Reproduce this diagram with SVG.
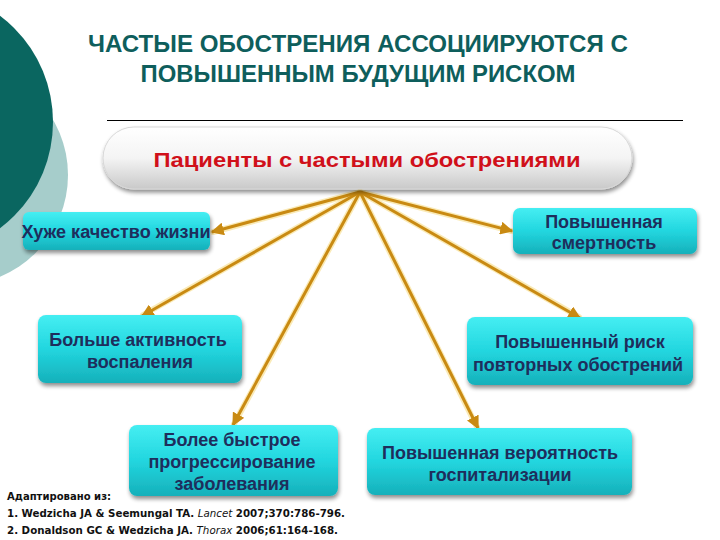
<svg xmlns="http://www.w3.org/2000/svg" width="720" height="540" viewBox="0 0 720 540">
<defs>
<linearGradient id="cyan" x1="0" y1="0" x2="0" y2="1">
<stop offset="0" stop-color="#45EEF2"/>
<stop offset="0.5" stop-color="#22D6DF"/>
<stop offset="1" stop-color="#16B0BA"/>
</linearGradient>
<linearGradient id="pill" x1="0" y1="0" x2="0" y2="1">
<stop offset="0" stop-color="#FFFFFF"/>
<stop offset="0.5" stop-color="#F4F4F4"/>
<stop offset="1" stop-color="#C9C9C9"/>
</linearGradient>
<filter id="sh" x="-10%" y="-20%" width="120%" height="150%">
<feGaussianBlur in="SourceAlpha" stdDeviation="2"/>
<feOffset dx="1" dy="3" result="b"/>
<feComponentTransfer><feFuncA type="linear" slope="0.45"/></feComponentTransfer>
<feMerge><feMergeNode/><feMergeNode in="SourceGraphic"/></feMerge>
</filter>
<marker id="ah" viewBox="0 0 10 10" refX="9" refY="5" markerWidth="13" markerHeight="13" markerUnits="userSpaceOnUse" orient="auto">
<path d="M0,0 L10,5 L0,10 z" fill="#C98A12"/>
</marker>
</defs>
<style>
.box{fill:url(#cyan);filter:url(#sh)}
.bt{font-family:"Liberation Sans",Arial,sans-serif;font-weight:bold;font-size:18px;fill:#1E2E5C;text-anchor:middle}
.halo{stroke:#F7DC86;stroke-width:6;stroke-linecap:round;opacity:0.6;fill:none}
.arr{stroke:#C98A12;stroke-width:3;fill:none;marker-end:url(#ah)}
.ref{font-family:"DejaVu Sans",Verdana,sans-serif;font-weight:bold;font-size:10px;fill:#111}
</style>
<rect width="720" height="540" fill="#FFFFFF"/>
<g id="background">
<circle cx="-42" cy="175" r="110" fill="#A6CDCB"/>
<circle cx="-80" cy="122" r="133" fill="#0A6660"/>
</g>
<g id="title" font-family="'Liberation Sans',Arial,sans-serif" font-weight="bold" font-size="24" fill="#0E5E5C" text-anchor="middle">
<text x="358" y="52" textLength="540" lengthAdjust="spacingAndGlyphs">ЧАСТЫЕ ОБОСТРЕНИЯ АССОЦИИРУЮТСЯ С</text>
<text x="358" y="82" textLength="435" lengthAdjust="spacingAndGlyphs">ПОВЫШЕННЫМ БУДУЩИМ РИСКОМ</text>
</g>
<line x1="107" y1="120.5" x2="683" y2="120.5" stroke="#000" stroke-width="1.2"/>
<g id="connectors">
<line class="halo" x1="360" y1="192" x2="213" y2="232"/>
<line class="halo" x1="360" y1="192" x2="143" y2="315"/>
<line class="halo" x1="360" y1="192" x2="234" y2="424"/>
<line class="halo" x1="360" y1="192" x2="511" y2="231"/>
<line class="halo" x1="360" y1="192" x2="579" y2="317"/>
<line class="halo" x1="360" y1="192" x2="477" y2="427"/>
<line class="arr" x1="360" y1="192" x2="212" y2="232"/>
<line class="arr" x1="360" y1="192" x2="142" y2="316"/>
<line class="arr" x1="360" y1="192" x2="233" y2="425"/>
<line class="arr" x1="360" y1="192" x2="512" y2="231"/>
<line class="arr" x1="360" y1="192" x2="580" y2="318"/>
<line class="arr" x1="360" y1="192" x2="478" y2="428"/>
</g>
<g id="patients">
<rect x="103" y="127" width="529" height="62" rx="31" fill="url(#pill)" filter="url(#sh)" stroke="#D8D8D8" stroke-width="1"/>
<text x="367" y="167" font-family="'Liberation Sans',Arial,sans-serif" font-weight="bold" font-size="20" fill="#D0101A" text-anchor="middle" textLength="427" lengthAdjust="spacingAndGlyphs">Пациенты с частыми обострениями</text>
</g>
<g id="quality">
<rect class="box" x="23" y="212" width="187" height="38" rx="6"/>
<text class="bt" x="116" y="238" font-size="17" textLength="189" lengthAdjust="spacingAndGlyphs">Хуже качество жизни</text>
</g>
<g id="mortality">
<rect class="box" x="513" y="208" width="184" height="46" rx="7"/>
<text class="bt" x="604" y="228" font-size="17">Повышенная</text>
<text class="bt" x="604" y="249" font-size="17">смертность</text>
</g>
<g id="inflammation">
<rect class="box" x="38" y="315" width="204" height="68" rx="8"/>
<text class="bt" x="138" y="346">Больше активность</text>
<text class="bt" x="140" y="368">воспаления</text>
</g>
<g id="exacerbations">
<rect class="box" x="467" y="317" width="226" height="68" rx="8"/>
<text class="bt" x="580" y="348">Повышенный риск</text>
<text class="bt" x="578" y="371">повторных обострений</text>
</g>
<g id="progression">
<rect class="box" x="129" y="425" width="209" height="71" rx="8"/>
<text class="bt" x="232" y="446">Более быстрое</text>
<text class="bt" x="232" y="468">прогрессирование</text>
<text class="bt" x="232" y="490">заболевания</text>
</g>
<g id="hospitalization">
<rect class="box" x="367" y="428" width="265" height="67" rx="8"/>
<text class="bt" x="500" y="459">Повышенная вероятность</text>
<text class="bt" x="500" y="481">госпитализации</text>
</g>
<g id="references">
<text class="ref" x="7" y="500" textLength="104" lengthAdjust="spacingAndGlyphs">Адаптировано из:</text>
<text class="ref" x="7" y="517" textLength="338" lengthAdjust="spacingAndGlyphs">1. Wedzicha JA &amp; Seemungal TA. <tspan font-style="italic" font-weight="normal">Lancet</tspan> 2007;370:786-796.</text>
<text class="ref" x="7" y="534" textLength="331" lengthAdjust="spacingAndGlyphs">2. Donaldson GC &amp; Wedzicha JA. <tspan font-style="italic" font-weight="normal">Thorax</tspan> 2006;61:164-168.</text>
</g>
</svg>
